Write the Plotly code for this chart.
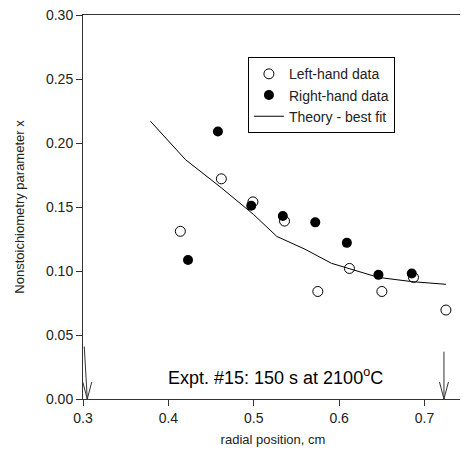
import plotly.graph_objects as go

# Data
left_x = [0.414, 0.462, 0.499, 0.536, 0.575, 0.612, 0.650, 0.687, 0.725]
left_y = [0.131, 0.172, 0.154, 0.139, 0.084, 0.102, 0.084, 0.095, 0.0695]

right_x = [0.423, 0.458, 0.497, 0.534, 0.572, 0.609, 0.646, 0.685]
right_y = [0.1086, 0.209, 0.151, 0.143, 0.138, 0.122, 0.097, 0.098]

theory_x = [0.379, 0.409, 0.420, 0.462, 0.500, 0.527, 0.560, 0.591, 0.612, 0.646, 0.685, 0.725]
theory_y = [0.217, 0.195, 0.187, 0.165, 0.144, 0.127, 0.117, 0.106, 0.102, 0.095, 0.0917, 0.0896]

edge_tips = [0.305, 0.7227]      # sample edge arrows (x positions)
edge_tops = [0.041, 0.037]
edge_slant = [-0.0035, 0.0]

x_ticks = [0.3, 0.4, 0.5, 0.6, 0.7]
y_ticks = [0.00, 0.05, 0.10, 0.15, 0.20, 0.25, 0.30]

FONT = "Liberation Sans, Arial, sans-serif"

fig = go.Figure()

fig.add_trace(go.Scatter(
    x=left_x, y=left_y, mode="markers", name="Left-hand data",
    marker=dict(symbol="circle-open", size=10, color="black", line=dict(width=1, color="black")),
    cliponaxis=False))
fig.add_trace(go.Scatter(
    x=right_x, y=right_y, mode="markers", name="Right-hand data",
    marker=dict(symbol="circle", size=10, color="black"),
    cliponaxis=False))
fig.add_trace(go.Scatter(
    x=theory_x, y=theory_y, mode="lines", name="Theory - best fit",
    line=dict(color="black", width=1)))

# edge arrows (open V heads)
px_x = 0.445 / 380.0
px_y = 0.30 / 384.0
for tip, top, sl in zip(edge_tips, edge_tops, edge_slant):
    ax = [tip + sl, tip, None, tip - 4.5 * px_x, tip, tip + 4.5 * px_x]
    ay = [top, 0.0, None, 17 * px_y, 0.0, 17 * px_y]
    fig.add_trace(go.Scatter(x=ax, y=ay, mode="lines", showlegend=False,
                             line=dict(color="#333", width=1), cliponaxis=False,
                             hoverinfo="skip"))

fig.add_annotation(x=0.526, y=0.0175, xref="x", yref="y",
                   text="Expt. #15: 150 s at 2100<sup>o</sup>C", showarrow=False,
                   font=dict(family=FONT, size=18, color="black"))

# page body has an 8px default margin; size the figure to fit inside the window
fig.update_layout(
    width=460, height=450,
    margin=dict(l=75, r=5, t=7, b=59),
    paper_bgcolor="white", plot_bgcolor="white",
    font=dict(family=FONT, size=14, color="#222"),
    showlegend=True,
    legend=dict(x=0.434, y=0.89, xanchor="left", yanchor="top",
                bordercolor="black", borderwidth=1, bgcolor="white",
                font=dict(family=FONT, size=14, color="#222"),
                tracegroupgap=0, itemwidth=30,
                entrywidth=120, entrywidthmode="pixels"),
    xaxis=dict(range=[0.3, 0.745], tickvals=x_ticks, ticktext=[f"{v:.1f}" for v in x_ticks],
               showgrid=False, zeroline=False, showline=True, linecolor="#333", linewidth=1,
               mirror=True, ticks="outside", ticklen=6, tickcolor="#333", automargin=False,
               ticklabeloverflow="allow",
               title=dict(text="radial position, cm", font=dict(family=FONT, size=13), standoff=10),
               tickfont=dict(family=FONT, size=14)),
    yaxis=dict(range=[0.0, 0.30], tickvals=y_ticks, ticktext=[f"{v:.2f}" for v in y_ticks],
               showgrid=False, zeroline=False, showline=True, linecolor="#333", linewidth=1,
               mirror=True, ticks="outside", ticklen=6, tickcolor="#333", automargin=False,
               ticklabeloverflow="allow",
               title=dict(text="Nonstoichiometry parameter x", font=dict(family=FONT, size=13), standoff=18),
               tickfont=dict(family=FONT, size=14)),
)

fig.write_html("out.html")
